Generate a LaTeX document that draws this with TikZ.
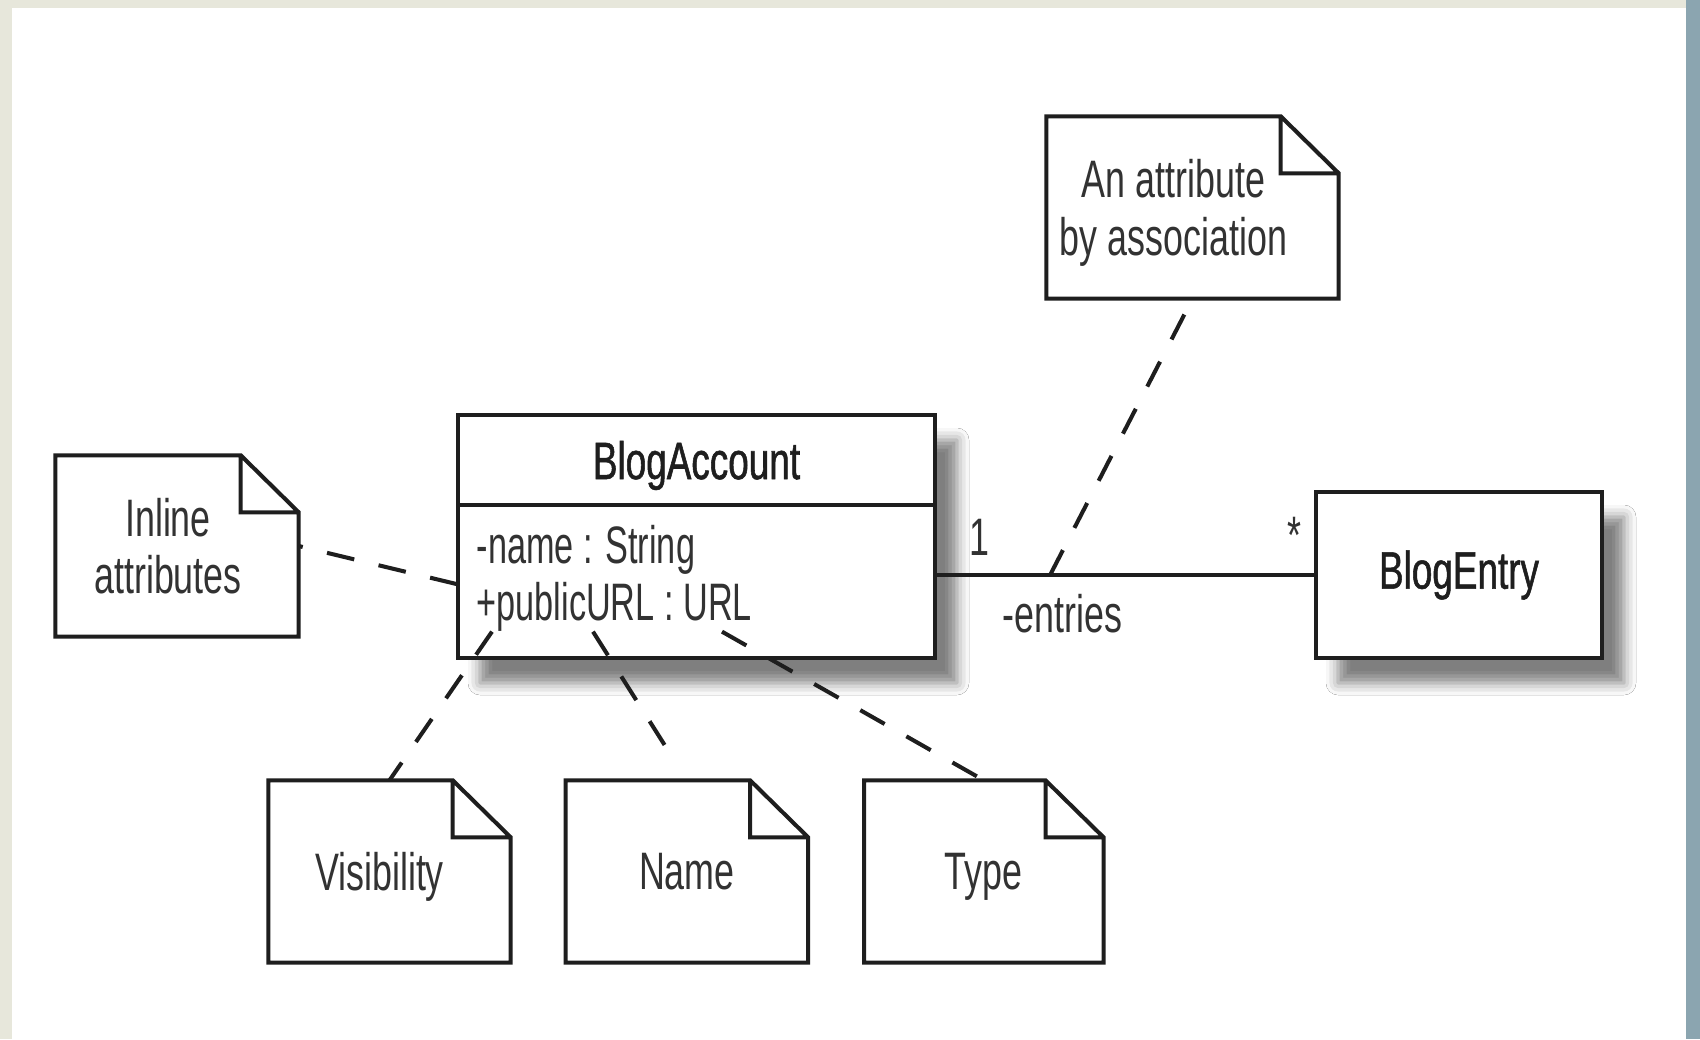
\documentclass[tikz,border=0pt]{standalone}
\usepackage{fontspec}
\setmainfont[FakeStretch=0.68]{Liberation Sans}
\newfontfamily\classfont[FakeStretch=0.7,FakeBold=1]{Liberation Sans}
\newfontfamily\attrfont[FakeStretch=0.65]{Liberation Sans}
\usepackage{tikz}
\usetikzlibrary{positioning}
\usetikzlibrary{shadows.blur}
\definecolor{ink}{RGB}{30,30,30}
\definecolor{txt}{RGB}{50,50,50}
\definecolor{paper}{RGB}{231,231,219}
\definecolor{slate}{RGB}{139,165,176}

\begin{document}
\begin{tikzpicture}[
  every node/.style={text=txt, font=\fontsize{15}{16.3}\selectfont},
  note/.style={minimum width=2.41cm, minimum height=1.81cm, inner sep=0pt, align=center, text depth=0pt,
    append after command={\pgfextra{\draw[ink, line width=1.15pt]
      (\tikzlastnode.north west) -- ([xshift=-5.8mm]\tikzlastnode.north east)
      -- ([yshift=-5.7mm]\tikzlastnode.north east) -- (\tikzlastnode.south east)
      -- (\tikzlastnode.south west) -- cycle
      ([xshift=-5.8mm]\tikzlastnode.north east) |- ([yshift=-5.7mm]\tikzlastnode.north east);}}},
  cls/.style={draw=ink, line width=1.15pt, fill=white, inner sep=0pt,
    blur shadow={shadow xshift=2.2mm, shadow yshift=-2.5mm, shadow blur radius=1.2mm, shadow opacity=50}},
  clsname/.style={text=ink, font=\classfont\fontsize{15}{16.3}\selectfont},
  attr/.style={anchor=base west, inner sep=0pt, font=\attrfont\fontsize{15}{16.3}\selectfont},
  link/.style={ink, line width=1.15pt, dash pattern=on 2.8mm off 2.5mm}]

\useasboundingbox (0,0) rectangle (17,-10.39);
\fill[paper] (0,0) rectangle (17,-10.39);
\fill[white] (0.12,-0.08) rectangle (16.86,-10.39);
\fill[slate] (16.86,0) rectangle (17,-10.39);

\node (acct) at (6.965,-5.365) [cls, minimum width=4.77cm, minimum height=2.43cm] {};
\node (accname) [below=0pt of acct.north, draw=ink, line width=1.15pt, minimum width=4.77cm,
  minimum height=0.9cm, text depth=0pt, clsname] {BlogAccount};
\node (attrs) [below=0pt of accname, minimum width=4.77cm, minimum height=1.53cm] {};
\node (attr1) [attr] at (4.76,-5.63) {-name : String};
\node (attr2) [attr] at (4.76,-6.20) {+publicURL : URL};

\node (entry) at (14.59,-5.75) [cls, minimum width=2.86cm, minimum height=1.66cm, clsname] {BlogEntry};

\node (inline) at (1.77,-5.46) [note, minimum width=2.42cm, minimum height=1.8cm]
  {\hspace*{-1.8mm}Inline\\\hspace*{-1.8mm}attributes};
\node (assocnote) at (11.925,-2.075) [note, minimum width=2.91cm]
  {\hspace*{-3.8mm}An attribute\\\hspace*{-3.8mm}by association};
\node (vis) at (3.895,-8.715) [note] {\hspace*{-2mm}Visibility};
\node (name) [note, right=0.55cm of vis] {Name};
\node (type) [note, right=0.56cm of name, minimum width=2.38cm] {Type};

\draw [ink, line width=1.15pt] (acct.east |- entry.west) -- (entry.west) coordinate[pos=0.3] (attach);
\node (one) [anchor=base] at (9.79,-5.55) {1};
\node (many) [anchor=base] at (12.94,-5.53) {*};
\node (role) [anchor=base west, inner sep=0pt] at (10.02,-6.32) {-entries};

\draw [link] (attrs.west) -- (inline.east);
\draw [link] (attach) -- (assocnote.south);
\draw [link] ([xshift=1.6mm]attr2.south west) -- (vis.north);
\draw [link, shorten >=2.5mm] ([xshift=11.7mm]attr2.south west) -- (name.north);
\draw [link] ([xshift=24.6mm]attr2.south west) -- (type.north);

\end{tikzpicture}
\end{document}
